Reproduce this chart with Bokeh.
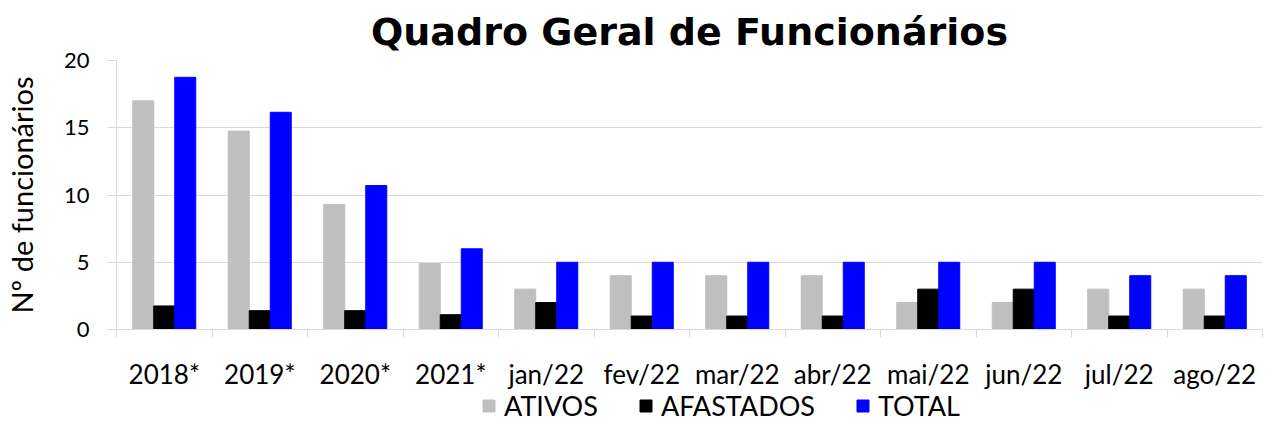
import numpy as np
from bokeh.plotting import figure
from bokeh.layouts import column
from bokeh.models import Range1d, FixedTicker, Legend, LegendItem, ColumnDataSource
from bokeh.transform import dodge
from bokeh.embed import file_html
from bokeh.resources import INLINE

categories = ["2018*", "2019*", "2020*", "2021*", "jan/22", "fev/22", "mar/22",
              "abr/22", "mai/22", "jun/22", "jul/22", "ago/22"]
ativos = [17.0, 14.75, 9.3, 4.9, 3, 4, 4, 4, 2, 2, 3, 3]
afastados = [1.75, 1.4, 1.4, 1.1, 2, 1, 1, 1, 3, 3, 1, 1]
total = [18.75, 16.15, 10.7, 6.0, 5, 5, 5, 5, 5, 5, 4, 4]
series_names = ["ATIVOS", "AFASTADOS", "TOTAL"]
series_colors = ["#bfbfbf", "#000000", "#0000ff"]
series_cols = ["ativos", "afastados", "total"]

FONT = "Lato"
n = len(categories)
centers = list(np.arange(n) + 0.5)
bounds = list(np.arange(n + 1).astype(float))
src = ColumnDataSource(dict(x=centers, ativos=ativos, afastados=afastados, total=total))
bw = 0.22
offsets = [-bw, 0, bw]

p = figure(width=1264, height=392, output_backend="svg", toolbar_location=None,
           x_range=Range1d(0, n), y_range=Range1d(0, 20),
           min_border_left=109, min_border_right=2, min_border_top=53, min_border_bottom=57)
p.outline_line_color = None

p.title.text = "Quadro Geral de Funcionários"
p.title.align = "center"
p.title.text_font = "DejaVu Sans"
p.title.text_font_style = "bold"
p.title.text_font_size = "38px"
p.title.text_color = "#000000"
p.title.standoff = 14

for off, col, color in zip(offsets, series_cols, series_colors):
    p.vbar(x=dodge("x", off), top=col, width=bw, bottom=0, source=src,
           fill_color=color, line_color=color)

ax = p.xaxis[0]
ax.ticker = FixedTicker(ticks=centers, minor_ticks=bounds)
ax.major_label_overrides = {c: lab for c, lab in zip(centers, categories)}
ax.major_tick_out = 0
ax.major_tick_in = 0
ax.minor_tick_out = 8
ax.minor_tick_in = 0
ax.minor_tick_line_color = "#d9d9d9"
ax.axis_line_color = "#d9d9d9"
ax.major_label_text_font = FONT
ax.major_label_text_font_size = "26px"
ax.major_label_text_color = "#000000"
ax.major_label_standoff = 20
ax.axis_label_standoff = 0

ay = p.yaxis[0]
ay.ticker = FixedTicker(ticks=[0, 5, 10, 15, 20])
ay.major_tick_out = 9
ay.major_tick_in = 0
ay.minor_tick_out = 0
ay.minor_tick_in = 0
ay.major_tick_line_color = "#d9d9d9"
ay.axis_line_color = "#d9d9d9"
ay.major_label_text_font = FONT
ay.major_label_text_font_size = "22px"
ay.major_label_text_color = "#000000"
ay.major_label_standoff = 18
ay.axis_label = "Nº de funcionários"
ay.axis_label_text_font = FONT
ay.axis_label_text_font_size = "29px"
ay.axis_label_text_font_style = "normal"
ay.axis_label_text_color = "#000000"
ay.axis_label_standoff = 22

p.xgrid.grid_line_color = None
p.ygrid.grid_line_color = "#d9d9d9"
p.ygrid.ticker = FixedTicker(ticks=[5, 10, 15, 20])

# legend strip below the chart (proxy renderers kept outside its visible range)
pl = figure(width=1264, height=30, output_backend="svg", toolbar_location=None,
            x_range=Range1d(0, n), y_range=Range1d(1000, 1001),
            x_axis_type=None, y_axis_type=None,
            min_border_left=0, min_border_right=0, min_border_top=0, min_border_bottom=0)
pl.outline_line_color = None
pl.xgrid.grid_line_color = None
pl.ygrid.grid_line_color = None
proxies = []
for off, col, color in zip(offsets, series_cols, series_colors):
    proxies.append(pl.vbar(x=dodge("x", off), top=col, width=bw, bottom=0, source=src,
                           fill_color=color, line_color=color))

legend = Legend(items=[LegendItem(label=nm, renderers=[r]) for nm, r in zip(series_names, proxies)],
                orientation="horizontal", location=(365, 0))
legend.label_text_font = FONT
legend.label_text_font_size = "27px"
legend.label_text_color = "#000000"
legend.glyph_width = 15
legend.glyph_height = 15
legend.label_standoff = 8
legend.spacing = 40
legend.padding = 0
legend.margin = 0
legend.border_line_color = None
legend.background_fill_alpha = 0
pl.add_layout(legend)

open("out.html", "w").write(file_html(column(p, pl, spacing=0), INLINE))
